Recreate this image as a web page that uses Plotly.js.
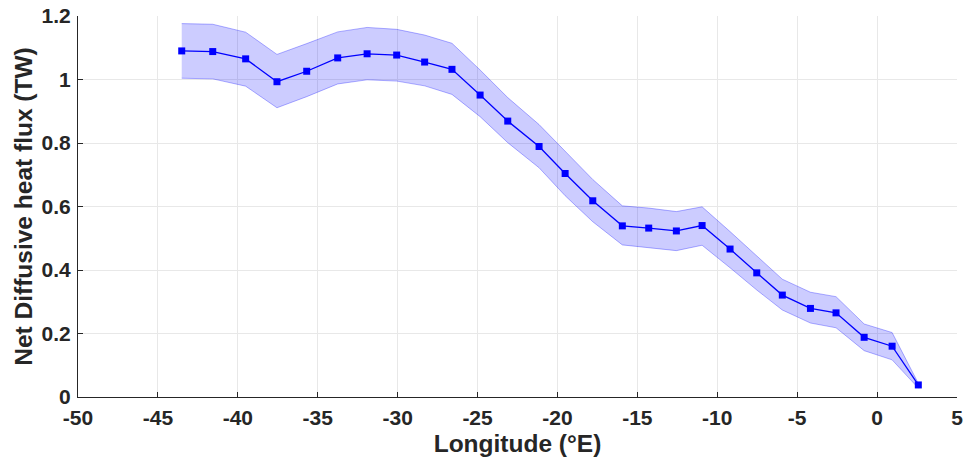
<!DOCTYPE html>
<html>
<head>
<meta charset="utf-8">
<script src="https://cdn.plot.ly/plotly-3.0.1.min.js"></script>
<style>html,body{margin:0;padding:0;background:#fff;}#chart{width:964px;height:465px;}</style>
</head>
<body>
<div id="chart"></div>
<script>
const lon = [-43.51,-41.57,-39.51,-37.55,-35.69,-33.75,-31.91,-30.06,-28.31,-26.60,-24.84,-23.11,-21.15,-19.52,-17.79,-15.94,-14.29,-12.56,-10.95,-9.20,-7.53,-5.93,-4.17,-2.57,-0.81,0.94,2.58];
const flux = [1.090,1.088,1.065,0.993,1.026,1.068,1.081,1.077,1.055,1.032,0.951,0.869,0.789,0.704,0.618,0.539,0.532,0.523,0.540,0.466,0.391,0.321,0.279,0.265,0.188,0.160,0.038];
const upper = [1.176,1.174,1.149,1.079,1.113,1.150,1.164,1.158,1.140,1.114,1.030,0.943,0.858,0.775,0.685,0.602,0.595,0.584,0.599,0.521,0.444,0.371,0.330,0.316,0.230,0.203,0.043];
const lower = [1.004,1.002,0.979,0.911,0.946,0.986,0.999,0.995,0.980,0.953,0.883,0.801,0.722,0.634,0.552,0.479,0.471,0.461,0.478,0.407,0.337,0.274,0.233,0.218,0.146,0.117,0.028];

const xTickVals = [-50,-45,-40,-35,-30,-25,-20,-15,-10,-5,0,5];
const xTickText = ['-50','-45','-40','-35','-30','-25','-20','-15','-10','-5','0','5'];
const yTickVals = [0,0.2,0.4,0.6,0.8,1,1.2];
const yTickText = ['0','0.2','0.4','0.6','0.8','1','1.2'];

const bandX = lon.concat(lon.slice().reverse());
const bandY = upper.concat(lower.slice().reverse());

const traces = [
  {x: bandX, y: bandY, type: 'scatter', mode: 'lines', fill: 'toself',
   fillcolor: 'rgba(0,0,255,0.2)', line: {color: 'rgba(0,0,255,0.3)', width: 1},
   hoverinfo: 'skip', showlegend: false},
  {x: lon, y: flux, type: 'scatter', mode: 'lines+markers',
   line: {color: '#0000ff', width: 1.3},
   marker: {symbol: 'square', size: 7, color: '#0000ff'}, showlegend: false}
];

const fam = '"Liberation Sans", Arial, sans-serif';
const tickFont = {family: fam, size: 21, color: '#262626', weight: 'bold'};
const titleFont = {family: fam, size: 24.5, color: '#262626', weight: 'bold'};
const layout = {
  width: 964, height: 465,
  margin: {l: 78, r: 7, t: 16, b: 68},
  paper_bgcolor: '#fff', plot_bgcolor: '#fff',
  font: {family: fam, color: '#262626'},
  showlegend: false,
  xaxis: {
    range: [-50, 5], tickmode: 'array', tickvals: xTickVals, ticktext: xTickText,
    ticks: 'inside', ticklen: 5, tickcolor: '#262626',
    showline: true, linecolor: '#262626', linewidth: 1,
    showgrid: true, gridcolor: '#e8e8e8', zeroline: false,
    tickfont: tickFont, ticklabelstandoff: 2,
    title: {text: 'Longitude (°E)', font: titleFont, standoff: 6}
  },
  yaxis: {
    range: [0, 1.2], tickmode: 'array', tickvals: yTickVals, ticktext: yTickText,
    ticks: 'inside', ticklen: 5, tickcolor: '#262626',
    showline: true, linecolor: '#262626', linewidth: 1,
    showgrid: true, gridcolor: '#e8e8e8', zeroline: false,
    tickfont: tickFont, ticklabelstandoff: 2,
    title: {text: 'Net Diffusive heat flux (TW)', font: titleFont, standoff: 2}
  }
};

Plotly.newPlot('chart', traces, layout, {displayModeBar: false, staticPlot: true});
</script>
</body>
</html>
